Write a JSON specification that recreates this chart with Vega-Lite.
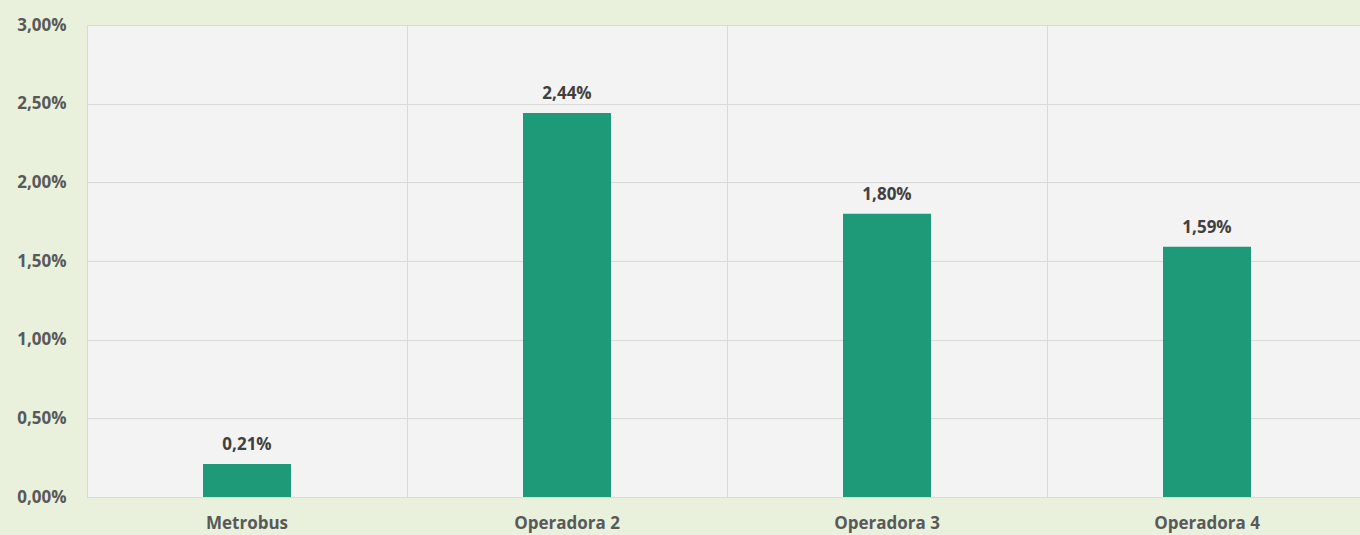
{
  "$schema": "https://vega.github.io/schema/vega-lite/v6.json",
  "width": 1273,
  "height": 472,
  "autosize": {"type": "none"},
  "padding": {"left": 87, "top": 25, "right": 0, "bottom": 38},
  "background": "#e9f1dc",
  "config": {
    "view": {"fill": "#f3f3f3", "stroke": "#d9d9d9"},
    "font": "Open Sans"
  },
  "data": {
    "values": [
      {"operadora": "Metrobus", "valor": 0.0021},
      {"operadora": "Operadora 2", "valor": 0.0244},
      {"operadora": "Operadora 3", "valor": 0.018},
      {"operadora": "Operadora 4", "valor": 0.0159}
    ]
  },
  "transform": [
    {"calculate": "replace(format(datum.valor, '.2%'), '.', ',')", "as": "etiqueta"}
  ],
  "encoding": {
    "x": {
      "field": "operadora",
      "type": "nominal",
      "sort": null,
      "scale": {"range": [0, 1280], "paddingInner": 0, "paddingOuter": 0},
      "axis": {
        "title": null,
        "bandPosition": 0,
        "labelAngle": 0,
        "grid": true,
        "gridColor": "#d9d9d9",
        "ticks": false,
        "domain": false,
        "labelFontWeight": "bold",
        "labelFontSize": 17,
        "labelColor": "#595959",
        "labelPadding": 18
      }
    },
    "y": {
      "field": "valor",
      "type": "quantitative",
      "scale": {"domain": [0, 0.03]},
      "axis": {
        "title": null,
        "values": [0, 0.005, 0.01, 0.015, 0.02, 0.025, 0.03],
        "labelExpr": "replace(format(datum.value, '.2%'), '.', ',')",
        "gridColor": "#d9d9d9",
        "ticks": false,
        "domain": false,
        "labelFontWeight": "bold",
        "labelFontSize": 17,
        "labelColor": "#595959",
        "labelPadding": 21
      }
    }
  },
  "layer": [
    {"mark": {"type": "bar", "size": 88, "color": "#1f9a78"}},
    {
      "mark": {"type": "text", "dy": -19, "fontWeight": "bold", "fontSize": 17, "color": "#404040"},
      "encoding": {"text": {"field": "etiqueta"}}
    }
  ]
}
